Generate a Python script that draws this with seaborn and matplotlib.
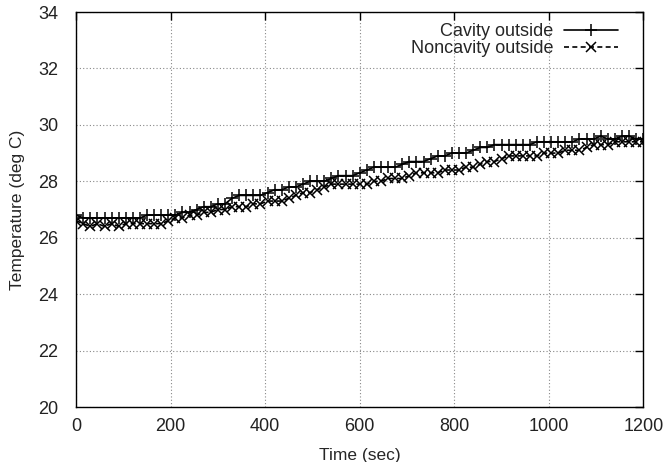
import numpy as np
import pandas as pd
import seaborn as sns
import matplotlib
matplotlib.use('Agg')
import matplotlib.pyplot as plt

# time axis, one sample every 15 sec
time_sec = list(range(0, 1201, 15))

cavity_outside = [
    26.8, 26.7, 26.7, 26.7, 26.7, 26.7, 26.7, 26.7, 26.7, 26.7,
    26.8, 26.8, 26.8, 26.8, 26.8, 26.9, 26.9, 27.0, 27.1, 27.1,
    27.2, 27.2, 27.4, 27.5, 27.5, 27.5, 27.5, 27.6, 27.7, 27.7,
    27.8, 27.8, 27.9, 28.0, 28.0, 28.0, 28.1, 28.2, 28.2, 28.2,
    28.3, 28.4, 28.5, 28.5, 28.5, 28.5, 28.6, 28.7, 28.7, 28.7,
    28.8, 28.9, 28.9, 29.0, 29.0, 29.0, 29.1, 29.2, 29.2, 29.3,
    29.3, 29.3, 29.3, 29.3, 29.3, 29.4, 29.4, 29.4, 29.4, 29.4,
    29.4, 29.5, 29.5, 29.5, 29.6, 29.5, 29.5, 29.6, 29.6, 29.5,
    29.5,
]

noncavity_outside = [
    26.6, 26.5, 26.4, 26.5, 26.4, 26.5, 26.4, 26.5, 26.5, 26.5,
    26.5, 26.5, 26.5, 26.6, 26.7, 26.7, 26.8, 26.8, 26.9, 26.9,
    27.0, 27.0, 27.1, 27.1, 27.1, 27.2, 27.2, 27.3, 27.3, 27.3,
    27.4, 27.5, 27.6, 27.6, 27.7, 27.8, 27.9, 27.9, 27.9, 27.9,
    27.9, 27.9, 28.0, 28.0, 28.1, 28.1, 28.1, 28.2, 28.3, 28.3,
    28.3, 28.3, 28.4, 28.4, 28.4, 28.5, 28.5, 28.6, 28.7, 28.7,
    28.8, 28.9, 28.9, 28.9, 28.9, 28.9, 29.0, 29.0, 29.0, 29.1,
    29.1, 29.1, 29.2, 29.3, 29.3, 29.3, 29.4, 29.4, 29.4, 29.4,
    29.4,
]

x_ticks = [0, 200, 400, 600, 800, 1000, 1200]
y_ticks = [20, 22, 24, 26, 28, 30, 32, 34]

sns.set_style('white')
plt.rcParams['font.family'] = ['Liberation Sans', 'DejaVu Sans']

df = pd.DataFrame({'t': time_sec, 'cav': cavity_outside, 'noncav': noncavity_outside})

fig = plt.figure(figsize=(6.68, 4.62), dpi=100)
ax = fig.add_axes([0.114, 0.119, 0.849, 0.855])

# seaborn gives markers a white edge by default -> force black for + and x
sns.lineplot(data=df, x='t', y='cav', ax=ax, color='black', linewidth=1.2,
             marker='+', markersize=8, markeredgewidth=1.1,
             markeredgecolor='black', label='Cavity outside')
sns.lineplot(data=df, x='t', y='noncav', ax=ax, color='black', linewidth=1.2,
             linestyle=(0, (3, 2)), marker='x', markersize=7, markeredgewidth=1.1,
             markeredgecolor='black', label='Noncavity outside')

ax.set_xlim(0, 1200)
ax.set_ylim(20, 34)
ax.set_xticks(x_ticks)
ax.set_yticks(y_ticks)
ax.grid(True, linestyle=(0, (1, 2)), color='#888888', linewidth=0.8)
ax.tick_params(direction='in', length=6, width=1, top=True, right=True,
               labelsize=13, colors='black')
ax.tick_params(axis='x', labelcolor='#222222', pad=8)
ax.tick_params(axis='y', labelcolor='#222222', pad=13)
for s in ax.spines.values():
    s.set_color('black')
    s.set_linewidth(1.0)

ax.set_xlabel('Time (sec)', fontsize=12.5, labelpad=9)
ax.set_ylabel('Temperature (deg C)', fontsize=12.5, labelpad=9)

leg = ax.legend(loc='upper right', frameon=False, markerfirst=False,
                fontsize=13, handlelength=3.0, handletextpad=0.6,
                labelspacing=0.0, borderaxespad=0.2,
                bbox_to_anchor=(0.975, 1.0))

fig.savefig('out.png', dpi=100)
